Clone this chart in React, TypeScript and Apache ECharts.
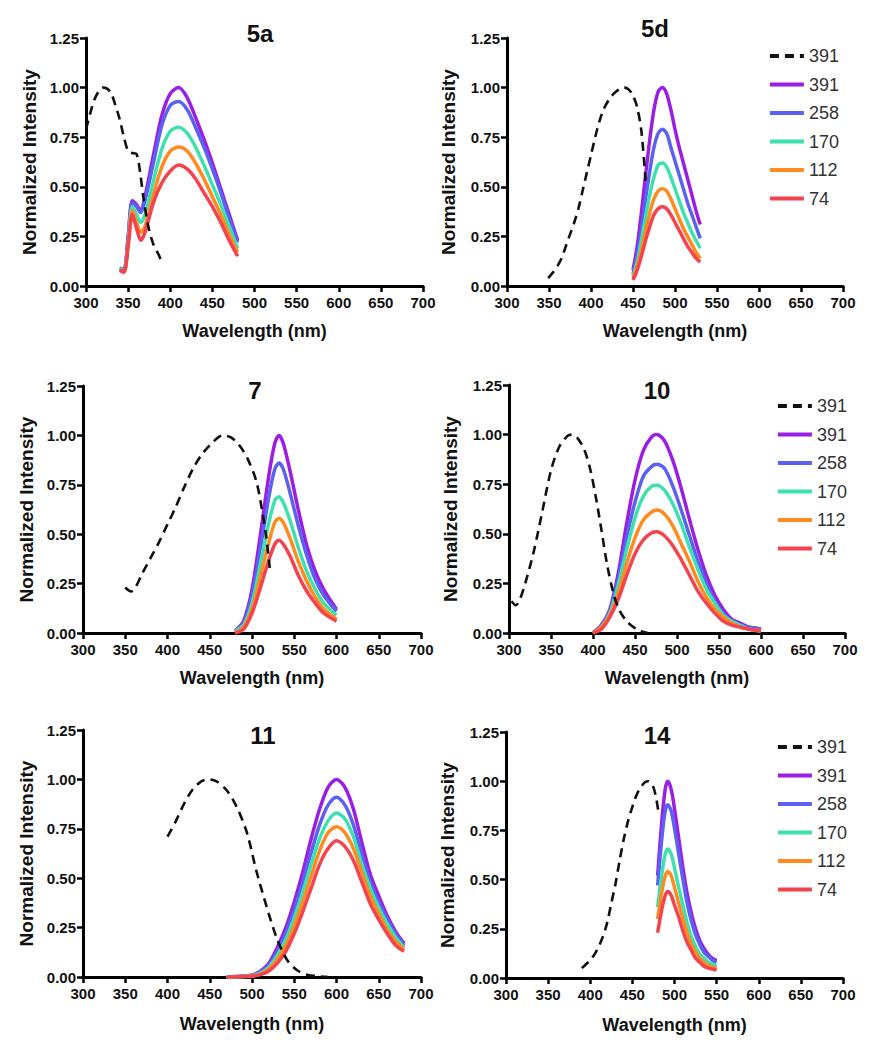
import React, { useEffect, useRef } from "react";
import * as echarts from "echarts";

// ---------- tick labels / categories ----------
const X_MIN = 300;
const X_MAX = 700;
const X_STEP = 50;
const Y_MIN = 0;
const Y_MAX = 1.25;
const Y_STEP = 0.25;
const ABS_LABEL = "391";
const CONC = ["391", "258", "170", "112", "74"];
const X_NAME = "Wavelength (nm)";
const Y_NAME = "Normalized Intensity";

// ---------- 5a ----------
const A5A_X = [300, 305, 310, 315, 320, 325, 330, 335, 340, 345, 350, 355, 360, 364, 368, 374, 380, 386, 391];
const A5A_Y = [0.79, 0.87, 0.94, 0.98, 1.0, 0.995, 0.97, 0.91, 0.84, 0.75, 0.68, 0.67, 0.665, 0.58, 0.45, 0.3, 0.21, 0.16, 0.11];
const E5A_X = [340, 345, 350, 355, 360, 365, 370, 380, 390, 400, 410, 420, 430, 440, 450, 460, 470, 480];
const E5A_391 = [0.09, 0.08, 0.25, 0.43, 0.41, 0.38, 0.45, 0.66, 0.86, 0.97, 1.0, 0.95, 0.85, 0.74, 0.62, 0.49, 0.36, 0.23];
const E5A_258 = [0.09, 0.08, 0.24, 0.42, 0.4, 0.37, 0.43, 0.62, 0.81, 0.91, 0.93, 0.89, 0.8, 0.7, 0.59, 0.47, 0.34, 0.22];
const E5A_170 = [0.09, 0.07, 0.22, 0.4, 0.36, 0.32, 0.36, 0.53, 0.69, 0.78, 0.8, 0.77, 0.7, 0.61, 0.51, 0.41, 0.3, 0.19];
const E5A_112 = [0.08, 0.07, 0.21, 0.38, 0.32, 0.27, 0.3, 0.46, 0.6, 0.68, 0.7, 0.68, 0.62, 0.54, 0.45, 0.36, 0.26, 0.17];
const E5A_74 = [0.08, 0.07, 0.2, 0.36, 0.29, 0.23, 0.27, 0.42, 0.52, 0.58, 0.61, 0.59, 0.54, 0.47, 0.4, 0.32, 0.23, 0.15];

// ---------- 5d ----------
const A5D_X = [349, 355, 360, 365, 370, 375, 380, 385, 390, 395, 400, 405, 410, 415, 420, 425, 430, 435, 440, 445, 450, 455, 460, 465];
const A5D_Y = [0.04, 0.07, 0.1, 0.14, 0.2, 0.26, 0.32, 0.39, 0.48, 0.57, 0.66, 0.75, 0.83, 0.89, 0.93, 0.96, 0.98, 0.995, 1.0, 0.99, 0.96, 0.9, 0.78, 0.53];
const E5D_X = [450, 455, 460, 465, 470, 475, 480, 485, 490, 495, 500, 505, 510, 515, 520, 525, 530];
const E5D_391 = [0.08, 0.2, 0.37, 0.56, 0.74, 0.89, 0.98, 1.0, 0.97, 0.89, 0.79, 0.7, 0.62, 0.54, 0.46, 0.38, 0.31];
const E5D_258 = [0.06, 0.16, 0.29, 0.44, 0.58, 0.7, 0.77, 0.79, 0.77, 0.7, 0.63, 0.56, 0.49, 0.42, 0.36, 0.3, 0.24];
const E5D_170 = [0.05, 0.12, 0.23, 0.35, 0.46, 0.55, 0.61, 0.62, 0.6, 0.55, 0.49, 0.43, 0.37, 0.32, 0.27, 0.23, 0.19];
const E5D_112 = [0.04, 0.1, 0.18, 0.28, 0.37, 0.44, 0.48, 0.49, 0.48, 0.44, 0.39, 0.34, 0.29, 0.25, 0.21, 0.17, 0.14];
const E5D_74 = [0.03, 0.08, 0.15, 0.23, 0.3, 0.36, 0.39, 0.4, 0.39, 0.36, 0.32, 0.28, 0.24, 0.2, 0.17, 0.14, 0.12];

// ---------- 7 ----------
const A7_X = [350, 357, 362, 370, 380, 390, 400, 410, 420, 430, 440, 450, 460, 466, 475, 485, 495, 505, 512, 517, 521];
const A7_Y = [0.23, 0.21, 0.23, 0.3, 0.38, 0.46, 0.55, 0.64, 0.74, 0.83, 0.9, 0.95, 0.99, 1.0, 0.99, 0.95, 0.88, 0.77, 0.62, 0.48, 0.33];
const E7_X = [480, 490, 500, 510, 520, 527, 532, 537, 545, 555, 565, 575, 585, 600];
const E7_391 = [0.01, 0.06, 0.22, 0.5, 0.8, 0.96, 1.0, 0.96, 0.82, 0.62, 0.44, 0.31, 0.22, 0.12];
const E7_258 = [0.01, 0.05, 0.19, 0.43, 0.69, 0.83, 0.86, 0.83, 0.71, 0.54, 0.39, 0.27, 0.19, 0.11];
const E7_170 = [0.01, 0.04, 0.15, 0.35, 0.56, 0.67, 0.69, 0.66, 0.57, 0.43, 0.31, 0.22, 0.15, 0.09];
const E7_112 = [0.0, 0.03, 0.12, 0.29, 0.46, 0.56, 0.58, 0.56, 0.48, 0.36, 0.26, 0.18, 0.12, 0.07];
const E7_74 = [0.0, 0.02, 0.1, 0.23, 0.37, 0.45, 0.47, 0.45, 0.39, 0.29, 0.21, 0.15, 0.1, 0.06];

// ---------- 10 ----------
const A10_X = [303, 308, 313, 320, 330, 340, 350, 360, 370, 375, 382, 390, 397, 404, 410, 417, 425, 432, 440, 448, 456, 465];
const A10_Y = [0.16, 0.14, 0.17, 0.26, 0.42, 0.62, 0.82, 0.94, 0.995, 1.0, 0.98, 0.92, 0.82, 0.67, 0.52, 0.34, 0.19, 0.11, 0.06, 0.03, 0.01, 0.0];
const E10_X = [400, 410, 420, 430, 440, 450, 460, 470, 476, 485, 495, 505, 515, 525, 535, 545, 555, 565, 575, 585, 600];
const E10_391 = [0.0, 0.04, 0.12, 0.3, 0.55, 0.77, 0.92, 0.99, 1.0, 0.97, 0.87, 0.73, 0.57, 0.42, 0.29, 0.19, 0.12, 0.07, 0.05, 0.03, 0.02];
const E10_258 = [0.0, 0.04, 0.11, 0.27, 0.48, 0.66, 0.79, 0.84, 0.85, 0.83, 0.74, 0.62, 0.49, 0.36, 0.25, 0.16, 0.1, 0.06, 0.04, 0.03, 0.02];
const E10_170 = [0.0, 0.03, 0.1, 0.24, 0.42, 0.58, 0.69, 0.74, 0.745, 0.72, 0.65, 0.55, 0.43, 0.32, 0.22, 0.15, 0.09, 0.06, 0.04, 0.02, 0.01];
const E10_112 = [0.0, 0.03, 0.09, 0.2, 0.35, 0.48, 0.57, 0.61, 0.62, 0.6, 0.54, 0.45, 0.36, 0.26, 0.18, 0.12, 0.08, 0.05, 0.03, 0.02, 0.01];
const E10_74 = [0.0, 0.02, 0.08, 0.17, 0.29, 0.4, 0.47, 0.505, 0.51, 0.49, 0.44, 0.37, 0.29, 0.21, 0.15, 0.1, 0.06, 0.04, 0.03, 0.02, 0.01];

// ---------- 11 ----------
const A11_X = [400, 410, 420, 430, 440, 448, 458, 470, 482, 494, 505, 517, 529, 541, 553, 565, 578, 590];
const A11_Y = [0.71, 0.79, 0.88, 0.95, 0.99, 1.0, 0.99, 0.945, 0.86, 0.73, 0.54, 0.36, 0.2, 0.09, 0.035, 0.012, 0.004, 0.0];
const E11_X = [470, 490, 500, 510, 520, 530, 540, 550, 560, 570, 580, 590, 600, 610, 620, 630, 640, 650, 660, 670, 680];
const E11_391 = [0.0, 0.005, 0.01, 0.03, 0.07, 0.15, 0.25, 0.38, 0.53, 0.7, 0.85, 0.96, 1.0, 0.96, 0.85, 0.68, 0.52, 0.41, 0.31, 0.23, 0.17];
const E11_258 = [0.0, 0.004, 0.008, 0.025, 0.06, 0.13, 0.22, 0.34, 0.48, 0.63, 0.77, 0.87, 0.91, 0.87, 0.77, 0.62, 0.48, 0.38, 0.29, 0.22, 0.16];
const E11_170 = [0.0, 0.003, 0.007, 0.02, 0.05, 0.11, 0.19, 0.3, 0.43, 0.57, 0.7, 0.79, 0.83, 0.8, 0.71, 0.57, 0.45, 0.35, 0.27, 0.2, 0.15];
const E11_112 = [0.0, 0.002, 0.005, 0.015, 0.04, 0.09, 0.16, 0.26, 0.38, 0.51, 0.64, 0.73, 0.76, 0.73, 0.65, 0.53, 0.41, 0.32, 0.24, 0.18, 0.14];
const E11_74 = [0.0, 0.002, 0.004, 0.012, 0.03, 0.07, 0.13, 0.22, 0.33, 0.45, 0.57, 0.65, 0.69, 0.66, 0.59, 0.48, 0.37, 0.29, 0.22, 0.16, 0.13];

// ---------- 14 ----------
const A14_X = [390, 395, 400, 405, 410, 415, 420, 425, 430, 435, 440, 445, 450, 455, 460, 465, 469, 474, 478, 481];
const A14_Y = [0.05, 0.07, 0.09, 0.12, 0.16, 0.21, 0.28, 0.38, 0.48, 0.6, 0.71, 0.8, 0.87, 0.93, 0.97, 0.995, 1.0, 0.98, 0.92, 0.84];
const E14_X = [480, 485, 489, 492, 496, 500, 505, 510, 515, 520, 525, 530, 535, 540, 545, 550];
const E14_391 = [0.52, 0.8, 0.96, 1.0, 0.96, 0.86, 0.71, 0.56, 0.43, 0.33, 0.25, 0.19, 0.15, 0.12, 0.1, 0.09];
const E14_258 = [0.47, 0.71, 0.85, 0.88, 0.85, 0.76, 0.63, 0.5, 0.38, 0.29, 0.22, 0.17, 0.13, 0.11, 0.09, 0.08];
const E14_170 = [0.36, 0.53, 0.63, 0.655, 0.63, 0.56, 0.46, 0.37, 0.28, 0.21, 0.16, 0.12, 0.1, 0.08, 0.07, 0.06];
const E14_112 = [0.3, 0.44, 0.52, 0.54, 0.52, 0.46, 0.38, 0.3, 0.23, 0.17, 0.13, 0.1, 0.08, 0.065, 0.055, 0.05];
const E14_74 = [0.23, 0.35, 0.42, 0.44, 0.42, 0.37, 0.31, 0.24, 0.18, 0.14, 0.1, 0.08, 0.06, 0.05, 0.045, 0.04];

// ---------- styling / layout ----------
const EM_COLORS = ["#9b1fe3", "#5b62f2", "#3fe0b0", "#ff8a1f", "#f2434f"];
const ABS_COLOR = "#111111";
const FONT = "'Liberation Sans', Arial, Helvetica, sans-serif";

const PANELS = [
  { id: "5a", grid: { left: 86, top: 38, width: 337, height: 248 }, title: [260, 33], nameGap: 47, absX: A5A_X, absY: A5A_Y, emX: E5A_X, em: [E5A_391, E5A_258, E5A_170, E5A_112, E5A_74], legend: null },
  { id: "5d", grid: { left: 507, top: 38, width: 336, height: 248 }, title: [655, 28], nameGap: 49, absX: A5D_X, absY: A5D_Y, emX: E5D_X, em: [E5D_391, E5D_258, E5D_170, E5D_112, E5D_74], legend: { left: 768, top: 47 } },
  { id: "7", grid: { left: 83, top: 386, width: 338, height: 247 }, title: [255, 390], nameGap: 47, absX: A7_X, absY: A7_Y, emX: E7_X, em: [E7_391, E7_258, E7_170, E7_112, E7_74], legend: null },
  { id: "10", grid: { left: 509, top: 385, width: 336, height: 248 }, title: [657, 390], nameGap: 49, absX: A10_X, absY: A10_Y, emX: E10_X, em: [E10_391, E10_258, E10_170, E10_112, E10_74], legend: { left: 776, top: 397 } },
  { id: "11", grid: { left: 83, top: 730, width: 338, height: 247 }, title: [263, 735], nameGap: 47, absX: A11_X, absY: A11_Y, emX: E11_X, em: [E11_391, E11_258, E11_170, E11_112, E11_74], legend: null },
  { id: "14", grid: { left: 506, top: 732, width: 337, height: 246 }, title: [657, 735], nameGap: 49, absX: A14_X, absY: A14_Y, emX: E14_X, em: [E14_391, E14_258, E14_170, E14_112, E14_74], legend: { left: 776, top: 738 } },
];

function zip(xs: number[], ys: number[]) {
  return xs.map((x, i) => [x, ys[i]]);
}

function buildOption() {
  const grids: any[] = [];
  const xAxes: any[] = [];
  const yAxes: any[] = [];
  const series: any[] = [];
  const legends: any[] = [];
  const graphics: any[] = [];

  PANELS.forEach((p, i) => {
    grids.push({ ...p.grid, containLabel: false, outerBoundsMode: "none" });
    xAxes.push({
      type: "value",
      gridIndex: i,
      min: X_MIN,
      max: X_MAX,
      interval: X_STEP,
      name: X_NAME,
      nameLocation: "middle",
      nameGap: i >= 4 ? 38 : 36,
      nameTextStyle: { fontSize: 18, fontWeight: "bold", color: "#111", fontFamily: FONT },
      axisLine: { show: true, onZero: false, lineStyle: { color: "#000", width: 3 } },
      axisTick: { show: true, length: 6, lineStyle: { color: "#000", width: 2.5 } },
      axisLabel: { color: "#111", fontWeight: "bold", fontSize: 15, margin: 9, fontFamily: FONT },
      splitLine: { show: false },
    });
    yAxes.push({
      type: "value",
      gridIndex: i,
      min: Y_MIN,
      max: Y_MAX,
      interval: Y_STEP,
      name: Y_NAME,
      nameLocation: "middle",
      nameGap: p.nameGap,
      nameRotate: 90,
      nameTextStyle: { fontSize: 19, fontWeight: "bold", color: "#111", fontFamily: FONT },
      axisLine: { show: true, onZero: false, lineStyle: { color: "#000", width: 3 } },
      axisTick: { show: true, length: 6, lineStyle: { color: "#000", width: 2.5 } },
      axisLabel: {
        color: "#111",
        fontWeight: "bold",
        fontSize: 15,
        margin: 7,
        fontFamily: FONT,
        formatter: (v: number) => v.toFixed(2),
      },
      splitLine: { show: false },
    });

    const names: string[] = [];
    const absName = `${p.id}-abs`;
    names.push(absName);
    series.push({
      type: "line",
      name: absName,
      xAxisIndex: i,
      yAxisIndex: i,
      data: zip(p.absX, p.absY),
      smooth: 0.3,
      symbol: "none",
      z: 3,
      lineStyle: { color: ABS_COLOR, width: 2.6, type: [9, 6] },
      itemStyle: { color: ABS_COLOR },
    });
    p.em.forEach((ys, k) => {
      const nm = `${p.id}-${CONC[k]}`;
      names.push(nm);
      series.push({
        type: "line",
        name: nm,
        xAxisIndex: i,
        yAxisIndex: i,
        data: zip(p.emX, ys),
        smooth: 0.3,
        symbol: "none",
        z: 2,
        lineStyle: { color: EM_COLORS[k], width: 3.5 },
        itemStyle: { color: EM_COLORS[k] },
      });
    });

    if (p.legend) {
      legends.push({
        orient: "vertical",
        left: p.legend.left,
        top: p.legend.top,
        data: names,
        itemWidth: 34,
        itemHeight: 12,
        itemGap: 10.5,
        padding: 0,
        selectedMode: false,
        itemStyle: { opacity: 0 },
        lineStyle: { width: 3.8 },
        formatter: (name: string) => {
          const key = name.split("-")[1];
          return key === "abs" ? ABS_LABEL : key;
        },
        textStyle: { fontSize: 18, color: "#333", fontFamily: FONT, lineHeight: 18, padding: [0, 0, 0, 0] },
      });
    }

    graphics.push({
      type: "text",
      x: p.title[0],
      y: p.title[1],
      style: {
        text: p.id,
        fill: "#111",
        font: `bold 24px ${FONT}`,
        align: "center",
        verticalAlign: "middle",
      },
    });
  });

  return {
    animation: false,
    backgroundColor: "#ffffff",
    grid: grids,
    xAxis: xAxes,
    yAxis: yAxes,
    legend: legends,
    series,
    graphic: graphics,
  };
}

export default function App() {
  const ref = useRef<HTMLDivElement>(null);
  useEffect(() => {
    document.body.style.margin = "0";
    if (!ref.current) return;
    const chart = echarts.init(ref.current, undefined, { renderer: "svg" });
    chart.setOption(buildOption() as any);
    return () => chart.dispose();
  }, []);
  return <div ref={ref} style={{ width: 879, height: 1050 }} />;
}
